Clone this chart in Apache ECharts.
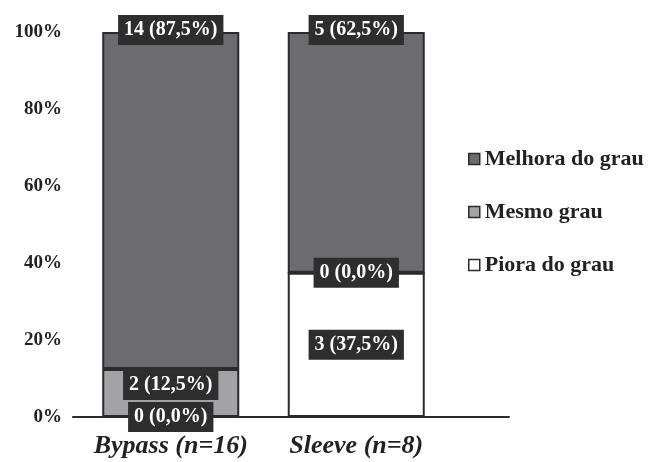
<!DOCTYPE html>
<html><head><meta charset="utf-8">
<script src="https://cdn.jsdelivr.net/npm/echarts@6/dist/echarts.min.js"></script>
<style>html,body{margin:0;padding:0;background:#fff}#c{width:652px;height:462px}</style>
</head><body><div id="c"></div>
<script>
const categories = ['Bypass (n=16)', 'Sleeve (n=8)'];
const seriesNames = ['Piora do grau', 'Mesmo grau', 'Melhora do grau'];
const pioraCount = [0, 3];
const pioraPct = [0, 37.5];
const mesmoCount = [2, 0];
const mesmoPct = [12.5, 0];
const melhoraCount = [14, 5];
const melhoraPct = [87.5, 62.5];
const yTicks = [0, 20, 40, 60, 80, 100];

const FONT = '"Liberation Serif", "Times New Roman", serif';
const fmt = (n, p) => n + ' (' + p.toFixed(1).replace('.', ',') + '%)';
const labelBase = {
  show: true, color: '#fff', backgroundColor: '#2e2e2e', fontFamily: FONT,
  fontWeight: 'bold', fontSize: 20, padding: [4, 6], lineHeight: 22
};
function makeData(counts, pcts, labelFor) {
  return pcts.map((p, i) => ({ value: p, label: labelFor(i, p) }));
}
const border = { borderColor: '#2b2b2b', borderWidth: 2 };
const BW = 137;

const pioraLabel = (i, p) => Object.assign({}, labelBase, { position: 'inside', formatter: fmt(pioraCount[i], p) });
const mesmoLabel = (i, p) => Object.assign({}, labelBase,
  p > 0 ? { position: 'insideTop', distance: 1 } : { position: 'inside' }, { formatter: fmt(mesmoCount[i], p) });
const melhoraLabel = (i, p) => Object.assign({}, labelBase,
  { position: ['50%', 0], align: 'center', verticalAlign: 'middle', offset: [0, -2], formatter: fmt(melhoraCount[i], p) });
const noLabel = () => ({ show: false });
const clear = { color: 'rgba(0,0,0,0)', borderWidth: 0 };

const chart = echarts.init(document.getElementById('c'));
chart.setOption({
  animation: false,
  grid: [
    { left: 78, right: 203, top: 32, bottom: 45 },
    { left: 73, right: 143, top: 32, bottom: 45 }
  ],
  legend: {
    orient: 'vertical', left: 463, top: 143, icon: 'rect', itemWidth: 11, itemHeight: 11,
    itemGap: 31, data: ['Melhora do grau', 'Mesmo grau', 'Piora do grau'],
    textStyle: { fontFamily: FONT, fontWeight: 'bold', fontSize: 22, color: '#222', lineHeight: 22 },
    itemStyle: { borderColor: '#2b2b2b', borderWidth: 1.5 }
  },
  xAxis: [
    { type: 'category', gridIndex: 0, data: categories,
      axisLine: { show: false }, axisTick: { show: false },
      axisLabel: { interval: 0, hideOverlap: false, fontFamily: FONT, fontWeight: 'bold', fontStyle: 'italic', fontSize: 26, color: '#222', margin: 16 } },
    { type: 'category', gridIndex: 1, data: [''],
      axisLine: { show: true, lineStyle: { color: '#2b2b2b', width: 2 } }, axisTick: { show: false },
      axisLabel: { show: false } }
  ],
  yAxis: [
    { type: 'value', gridIndex: 0, min: 0, max: 100, interval: 20,
      axisLine: { show: false }, axisTick: { show: false }, splitLine: { show: false },
      axisLabel: { fontFamily: FONT, fontWeight: 'bold', fontSize: 19, color: '#222', margin: 16,
        formatter: v => yTicks.includes(v) ? v + '%' : '' } },
    { type: 'value', gridIndex: 1, show: false, min: 0, max: 100 }
  ],
  series: [
    { name: 'Piora do grau', type: 'bar', stack: 's', barWidth: BW, z: 2,
      itemStyle: Object.assign({ color: '#ffffff' }, border),
      data: makeData(pioraCount, pioraPct, noLabel) },
    { name: 'Mesmo grau', type: 'bar', stack: 's', barWidth: BW, z: 2,
      itemStyle: Object.assign({ color: '#a3a3a5' }, border),
      data: makeData(mesmoCount, mesmoPct, noLabel) },
    { name: 'Melhora do grau', type: 'bar', stack: 's', barWidth: BW, z: 2,
      itemStyle: Object.assign({ color: '#6c6c6f' }, border),
      data: makeData(melhoraCount, melhoraPct, noLabel) },
    { name: 'lbl-piora', type: 'bar', stack: 'lab', barWidth: BW, barGap: '-100%', z: 10, silent: true,
      itemStyle: clear, data: makeData(pioraCount, pioraPct, pioraLabel) },
    { name: 'lbl-mesmo', type: 'bar', stack: 'lab', barWidth: BW, barGap: '-100%', z: 10, silent: true,
      itemStyle: clear, data: makeData(mesmoCount, mesmoPct, mesmoLabel) },
    { name: 'lbl-melhora', type: 'bar', stack: 'lab', barWidth: BW, barGap: '-100%', z: 10, silent: true,
      itemStyle: clear, data: makeData(melhoraCount, melhoraPct, melhoraLabel) }
  ]
});
</script></body></html>
